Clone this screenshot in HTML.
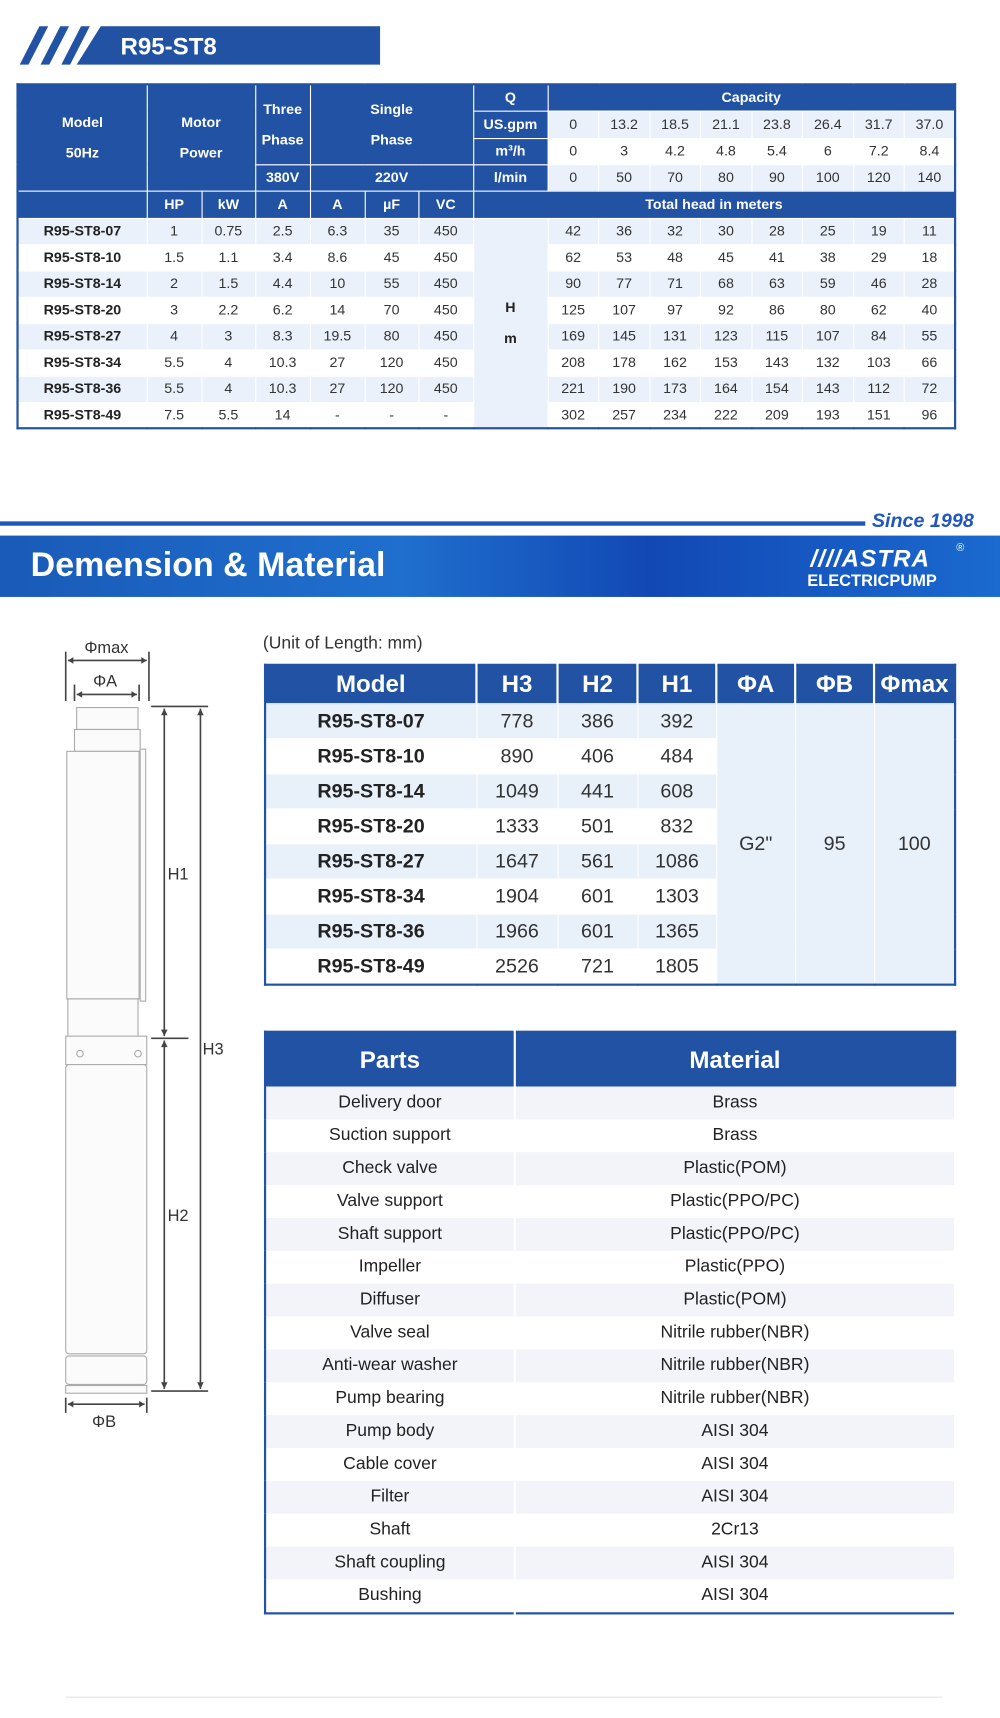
<!DOCTYPE html>
<html><head><meta charset="utf-8">
<style>
html,body{margin:0;padding:0;background:#fff;}
body{width:1000px;height:1718px;overflow:hidden;position:relative;}
#w{position:absolute;left:0;top:0;width:913px;height:1568px;transform-origin:0 0;transform:scale(1.09529);font-family:"Liberation Sans",sans-serif;}
.abs{position:absolute;}
table{border-collapse:collapse;table-layout:fixed;}
#t1{left:15px;top:76px;width:856px;border:2px solid #2152a3;}
#t1 td{border:1px solid #fff;text-align:center;font-size:13px;color:#333;padding:0;line-height:14px;}
#t1 .h{background:#2152a3;color:#fff;font-weight:bold;}
#t1 .l{background:#eaf1fa;}
#t1 .m{font-weight:bold;color:#222;}
#t2{left:241px;top:606px;width:630px;border:2px solid #2152a3;}
#t2 td{border:1px solid #fff;text-align:center;font-size:18px;color:#333;padding:0;height:31px;}
#t2 th{background:#2152a3;color:#fff;font-size:22px;font-weight:bold;height:34px;border-right:2px solid #fff;padding:0;}
#t2 .m{font-weight:bold;color:#222;}
#t2 .l td{background:#e8f0fa;}
#t2 td.g{background:#e8f0fa;}
#t3{left:241px;top:941px;width:630px;border:2px solid #2152a3;}
#t3 th{background:#2152a3;color:#fff;font-size:22px;font-weight:bold;height:49px;padding:0;}
#t3 td{font-size:16px;color:#222;text-align:center;height:30px;padding:0;border-right:2px solid #fff;}
#t3 tr:nth-child(even) td{background:#f2f4f9;}
</style></head><body><div id="w">

<svg class="abs" style="left:0;top:0" width="913" height="70">
<polygon points="70,59 92,24 347,24 347,59" fill="#2152a3"/>
<polygon points="18,59 36,24 44,24 26,59" fill="#2152a3"/>
<polygon points="37,59 55,24 63,24 45,59" fill="#2152a3"/>
<polygon points="56,59 74,24 82,24 64,59" fill="#2152a3"/>
<text x="110" y="50" fill="#fff" font-family="Liberation Sans" font-weight="bold" font-size="22">R95-ST8</text>
</svg>

<table id="t1" class="abs">
<colgroup><col style="width:118px"><col style="width:50px"><col style="width:49px"><col style="width:50px"><col style="width:50px"><col style="width:49px"><col style="width:50px"><col style="width:68px"><col span="8" style="width:46.5px"></colgroup>
<tr style="height:24px"><td class="h" rowspan="4">Model<br><br>50Hz</td><td class="h" rowspan="4" colspan="2">Motor<br><br>Power</td><td class="h" rowspan="3">Three<br><br>Phase</td><td class="h" rowspan="3" colspan="3">Single<br><br>Phase</td><td class="h">Q</td><td class="h" colspan="8">Capacity</td></tr>
<tr style="height:25px"><td class="h">US.gpm</td><td class="l">0</td><td class="l">13.2</td><td class="l">18.5</td><td class="l">21.1</td><td class="l">23.8</td><td class="l">26.4</td><td class="l">31.7</td><td class="l">37.0</td></tr>
<tr style="height:24px"><td class="h">m³/h</td><td>0</td><td>3</td><td>4.2</td><td>4.8</td><td>5.4</td><td>6</td><td>7.2</td><td>8.4</td></tr>
<tr style="height:24px"><td class="h">380V</td><td class="h" colspan="3">220V</td><td class="h">l/min</td><td class="l">0</td><td class="l">50</td><td class="l">70</td><td class="l">80</td><td class="l">90</td><td class="l">100</td><td class="l">120</td><td class="l">140</td></tr>
<tr style="height:25px"><td class="h"></td><td class="h">HP</td><td class="h">kW</td><td class="h">A</td><td class="h">A</td><td class="h">µF</td><td class="h">VC</td><td class="h" colspan="9">Total head in meters</td></tr>
<tr style="height:24px" class=""><td class="m l">R95-ST8-07</td><td class="l">1</td><td class="l">0.75</td><td class="l">2.5</td><td class="l">6.3</td><td class="l">35</td><td class="l">450</td><td class="l m" rowspan="8">H<br><br>m</td><td class="l">42</td><td class="l">36</td><td class="l">32</td><td class="l">30</td><td class="l">28</td><td class="l">25</td><td class="l">19</td><td class="l">11</td></tr>
<tr style="height:24px"><td class="m">R95-ST8-10</td><td>1.5</td><td>1.1</td><td>3.4</td><td>8.6</td><td>45</td><td>450</td><td>62</td><td>53</td><td>48</td><td>45</td><td>41</td><td>38</td><td>29</td><td>18</td></tr>
<tr style="height:24px"><td class="m l">R95-ST8-14</td><td class="l">2</td><td class="l">1.5</td><td class="l">4.4</td><td class="l">10</td><td class="l">55</td><td class="l">450</td><td class="l">90</td><td class="l">77</td><td class="l">71</td><td class="l">68</td><td class="l">63</td><td class="l">59</td><td class="l">46</td><td class="l">28</td></tr>
<tr style="height:24px"><td class="m">R95-ST8-20</td><td>3</td><td>2.2</td><td>6.2</td><td>14</td><td>70</td><td>450</td><td>125</td><td>107</td><td>97</td><td>92</td><td>86</td><td>80</td><td>62</td><td>40</td></tr>
<tr style="height:24px"><td class="m l">R95-ST8-27</td><td class="l">4</td><td class="l">3</td><td class="l">8.3</td><td class="l">19.5</td><td class="l">80</td><td class="l">450</td><td class="l">169</td><td class="l">145</td><td class="l">131</td><td class="l">123</td><td class="l">115</td><td class="l">107</td><td class="l">84</td><td class="l">55</td></tr>
<tr style="height:24px"><td class="m">R95-ST8-34</td><td>5.5</td><td>4</td><td>10.3</td><td>27</td><td>120</td><td>450</td><td>208</td><td>178</td><td>162</td><td>153</td><td>143</td><td>132</td><td>103</td><td>66</td></tr>
<tr style="height:24px"><td class="m l">R95-ST8-36</td><td class="l">5.5</td><td class="l">4</td><td class="l">10.3</td><td class="l">27</td><td class="l">120</td><td class="l">450</td><td class="l">221</td><td class="l">190</td><td class="l">173</td><td class="l">164</td><td class="l">154</td><td class="l">143</td><td class="l">112</td><td class="l">72</td></tr>
<tr style="height:24px"><td class="m">R95-ST8-49</td><td>7.5</td><td>5.5</td><td>14</td><td>-</td><td>-</td><td>-</td><td>302</td><td>257</td><td>234</td><td>222</td><td>209</td><td>193</td><td>151</td><td>96</td></tr>
</table>

<div class="abs" style="left:0;top:476px;width:790px;height:4px;background:#1f56c0"></div>
<div class="abs" style="left:796px;top:465px;font-size:18px;font-weight:bold;font-style:italic;color:#1f56c0">Since 1998</div>
<div class="abs" style="left:0;top:489px;width:913px;height:56px;background:linear-gradient(90deg,#1a5ab8 0%,#1f6fce 40%,#1248b4 65%,#1a6ad0 100%)"></div>
<div class="abs" style="left:28px;top:498px;font-size:31px;font-weight:bold;color:#fff">Demension &amp; Material</div>
<div class="abs" style="left:740px;top:497px;font-size:22px;font-weight:bold;font-style:italic;color:#fff;letter-spacing:1px">////ASTRA</div>
<div class="abs" style="left:737px;top:522px;font-size:15px;font-weight:bold;color:#fff">ELECTRICPUMP</div>
<div class="abs" style="left:873px;top:495px;font-size:10px;color:#fff">®</div>

<div class="abs" style="left:240px;top:579px;font-size:16px;color:#333">(Unit of Length: mm)</div>

<table id="t2" class="abs">
<colgroup><col style="width:193px"><col style="width:74px"><col style="width:73px"><col style="width:72px"><col style="width:72px"><col style="width:72px"><col style="width:74px"></colgroup>
<tr><th>Model</th><th>H3</th><th>H2</th><th>H1</th><th>ΦA</th><th>ΦB</th><th style="border-right:0">Φmax</th></tr>
<tr class="l"><td class="m">R95-ST8-07</td><td>778</td><td>386</td><td>392</td><td class="g" rowspan="8">G2"</td><td class="g" rowspan="8">95</td><td class="g" rowspan="8">100</td></tr>
<tr><td class="m">R95-ST8-10</td><td>890</td><td>406</td><td>484</td></tr>
<tr class="l"><td class="m">R95-ST8-14</td><td>1049</td><td>441</td><td>608</td></tr>
<tr><td class="m">R95-ST8-20</td><td>1333</td><td>501</td><td>832</td></tr>
<tr class="l"><td class="m">R95-ST8-27</td><td>1647</td><td>561</td><td>1086</td></tr>
<tr><td class="m">R95-ST8-34</td><td>1904</td><td>601</td><td>1303</td></tr>
<tr class="l"><td class="m">R95-ST8-36</td><td>1966</td><td>601</td><td>1365</td></tr>
<tr><td class="m">R95-ST8-49</td><td>2526</td><td>721</td><td>1805</td></tr>
</table>

<table id="t3" class="abs">
<colgroup><col style="width:228px"><col style="width:402px"></colgroup>
<tr><th style="border-right:2px solid #fff">Parts</th><th>Material</th></tr>
<tr><td>Delivery door</td><td>Brass</td></tr>
<tr><td>Suction support</td><td>Brass</td></tr>
<tr><td>Check valve</td><td>Plastic(POM)</td></tr>
<tr><td>Valve support</td><td>Plastic(PPO/PC)</td></tr>
<tr><td>Shaft support</td><td>Plastic(PPO/PC)</td></tr>
<tr><td>Impeller</td><td>Plastic(PPO)</td></tr>
<tr><td>Diffuser</td><td>Plastic(POM)</td></tr>
<tr><td>Valve seal</td><td>Nitrile rubber(NBR)</td></tr>
<tr><td>Anti-wear washer</td><td>Nitrile rubber(NBR)</td></tr>
<tr><td>Pump bearing</td><td>Nitrile rubber(NBR)</td></tr>
<tr><td>Pump body</td><td>AISI 304</td></tr>
<tr><td>Cable cover</td><td>AISI 304</td></tr>
<tr><td>Filter</td><td>AISI 304</td></tr>
<tr><td>Shaft</td><td>2Cr13</td></tr>
<tr><td>Shaft coupling</td><td>AISI 304</td></tr>
<tr><td>Bushing</td><td>AISI 304</td></tr>
</table>

<svg class="abs" style="left:0;top:570px" width="240" height="740" viewBox="0 570 240 740">
<g stroke="#444" stroke-width="1.5" fill="none">
<line x1="60" y1="595" x2="60" y2="640"/><line x1="136" y1="595" x2="136" y2="640"/>
<line x1="62" y1="603" x2="134" y2="603"/>
<line x1="68" y1="625" x2="68" y2="640"/><line x1="127" y1="625" x2="127" y2="640"/>
<line x1="70" y1="634" x2="125" y2="634"/>
<line x1="138" y1="645" x2="190" y2="645"/>
<line x1="138" y1="948" x2="172" y2="948"/>
<line x1="138" y1="1270" x2="190" y2="1270"/>
<line x1="150" y1="647" x2="150" y2="946"/>
<line x1="150" y1="950" x2="150" y2="1268"/>
<line x1="183" y1="647" x2="183" y2="1268"/>
<line x1="60" y1="1276" x2="60" y2="1290"/><line x1="134" y1="1276" x2="134" y2="1290"/>
<line x1="62" y1="1282" x2="132" y2="1282"/>
</g>
<g fill="#444">
<polygon points="62,603 67,600 67,606"/><polygon points="134,603 129,600 129,606"/>
<polygon points="70,634 75,631 75,637"/><polygon points="125,634 120,631 120,637"/>
<polygon points="150,647 147,653 153,653"/><polygon points="150,946 147,940 153,940"/>
<polygon points="150,950 147,956 153,956"/><polygon points="150,1268 147,1262 153,1262"/>
<polygon points="183,647 180,653 186,653"/><polygon points="183,1268 180,1262 186,1262"/>
<polygon points="62,1282 67,1279 67,1285"/><polygon points="132,1282 127,1279 127,1285"/>
</g>
<g stroke="#aaa" stroke-width="1" fill="#fbfbfb">
<rect x="70" y="646" width="56" height="20"/>
<rect x="68" y="666" width="60" height="20"/>
<rect x="61" y="686" width="66" height="226"/>
<rect x="128" y="684" width="5" height="230"/>
<rect x="62" y="912" width="64" height="35"/>
<rect x="60" y="946" width="74" height="26"/>
<rect x="60" y="972" width="74" height="264" rx="3"/>
<rect x="60" y="1238" width="74" height="26" rx="3"/>
<rect x="60" y="1265" width="74" height="7"/>
<circle cx="73" cy="962" r="3"/><circle cx="126" cy="962" r="3"/>
</g>
<g fill="#333" font-family="Liberation Sans" font-size="15">
<text x="77" y="596">Φmax</text><text x="85" y="627">ΦA</text>
<text x="153" y="803">H1</text><text x="185" y="963">H3</text>
<text x="153" y="1115">H2</text><text x="84" y="1303">ΦB</text>
</g>
</svg>

<div class="abs" style="left:60px;top:1549px;width:800px;height:1px;background:#e4e4e4"></div>
</div></body></html>
